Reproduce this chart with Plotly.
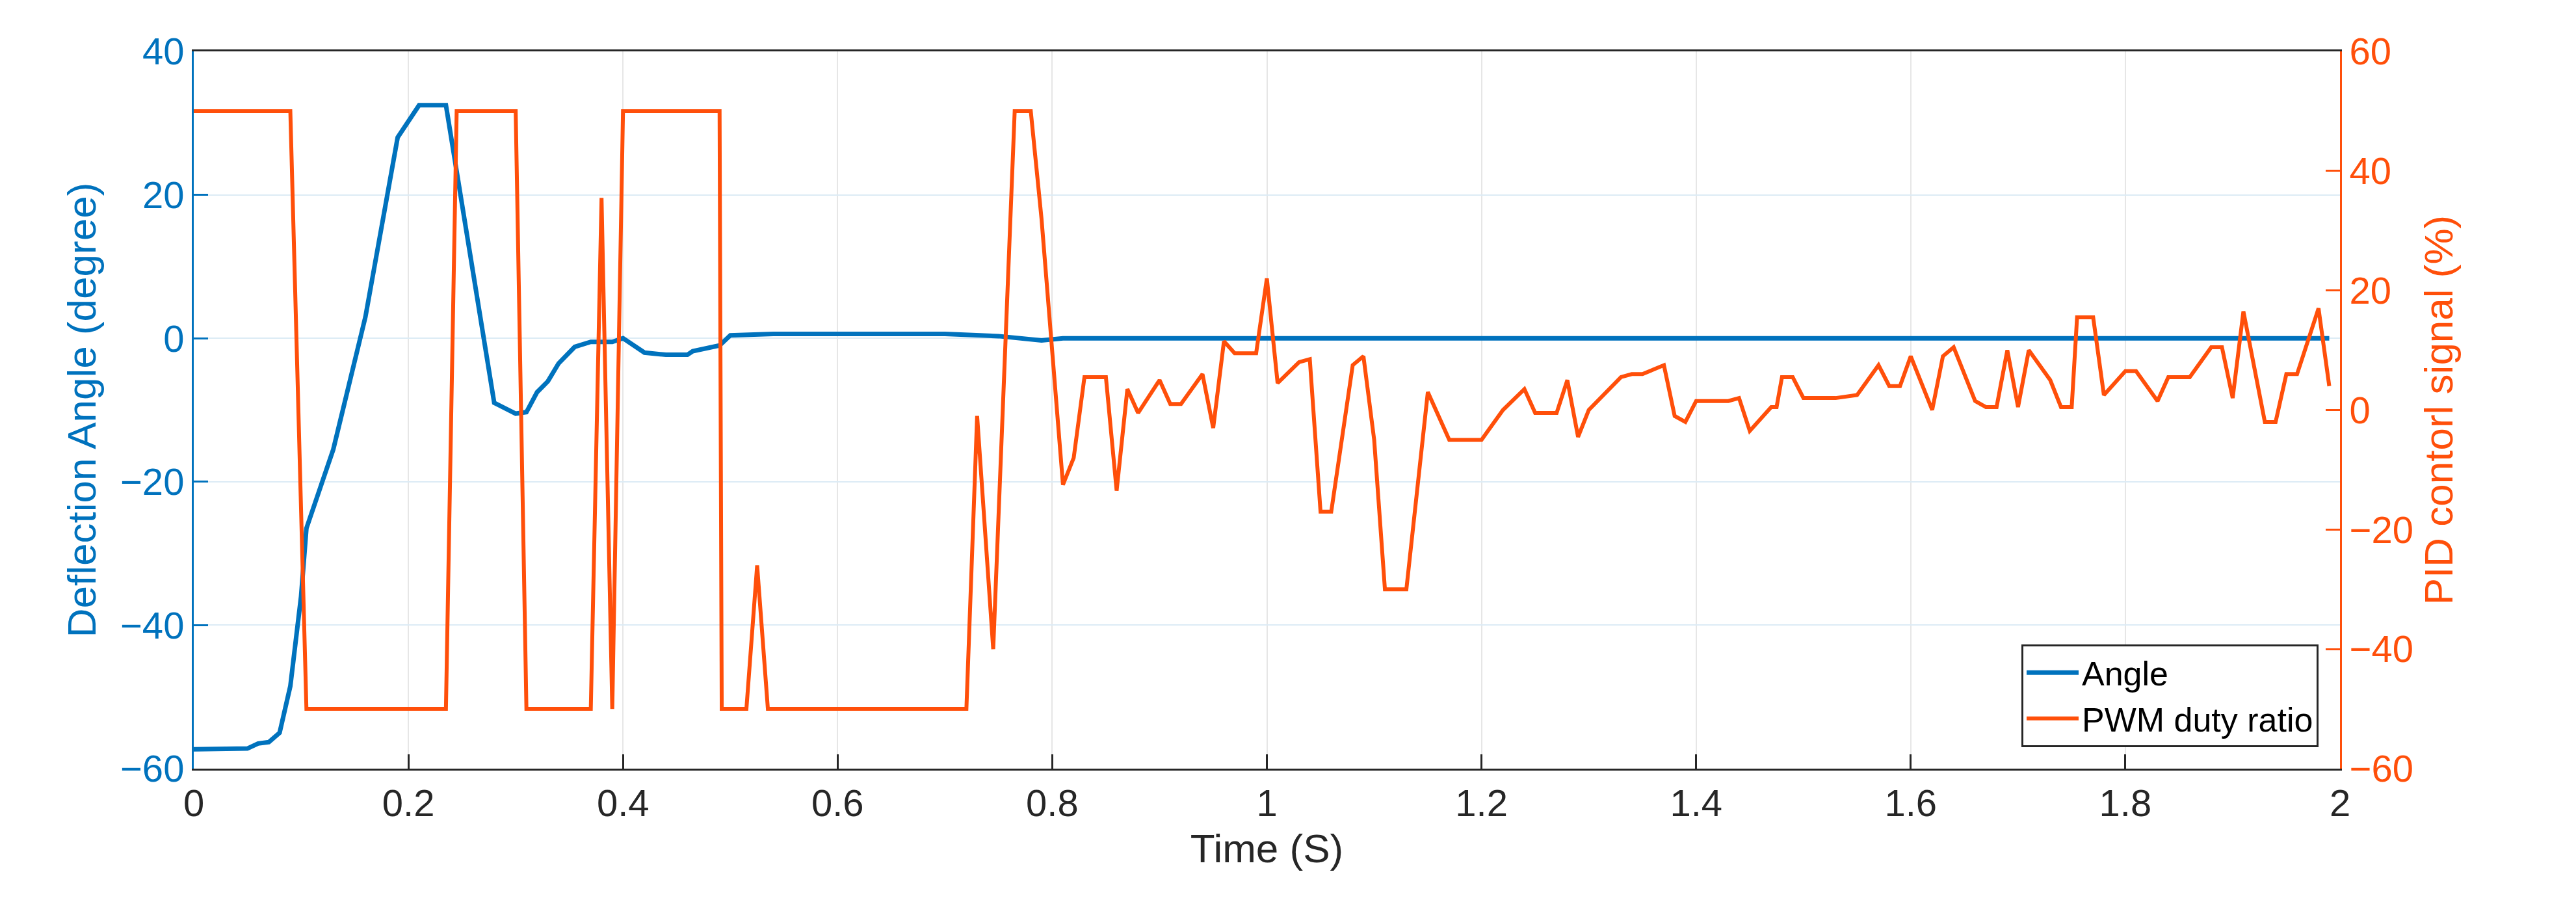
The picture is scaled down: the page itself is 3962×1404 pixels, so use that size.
import plotly.graph_objects as go

t_angle = [0, 0.05, 0.06, 0.07, 0.08, 0.09, 0.1, 0.105, 0.13, 0.16, 0.19, 0.21, 0.235, 0.28, 0.3, 0.31, 0.32, 0.33, 0.34, 0.355, 0.37, 0.39, 0.40, 0.42, 0.44, 0.46, 0.465, 0.49, 0.50, 0.54, 0.6, 0.7, 0.75, 0.79, 0.81, 1.0, 1.2, 1.5, 1.8, 1.99]
angle = [-57.3, -57.2, -56.5, -56.3, -55, -48.5, -36, -26.5, -15.5, 3, 28, 32.5, 32.5, -9, -10.5, -10.3, -7.5, -6, -3.5, -1.2, -0.5, -0.5, 0, -2, -2.3, -2.3, -1.8, -1, 0.4, 0.6, 0.6, 0.6, 0.3, -0.3, 0, 0, 0, 0, 0, 0]

t_pwm = [0, 0.09, 0.105, 0.235, 0.245, 0.30, 0.31, 0.37, 0.38, 0.39, 0.40, 0.49, 0.492, 0.515, 0.525, 0.535, 0.72, 0.73, 0.745, 0.765, 0.78, 0.79, 0.81, 0.82, 0.83, 0.85, 0.86, 0.87, 0.88, 0.9, 0.91, 0.92, 0.94, 0.95, 0.96, 0.97, 0.99, 1.0, 1.01, 1.03, 1.04, 1.05, 1.06, 1.08, 1.09, 1.1, 1.11, 1.13, 1.15, 1.17, 1.2, 1.22, 1.24, 1.25, 1.27, 1.28, 1.29, 1.3, 1.33, 1.34, 1.35, 1.37, 1.38, 1.39, 1.4, 1.43, 1.44, 1.45, 1.47, 1.475, 1.48, 1.49, 1.5, 1.53, 1.55, 1.57, 1.58, 1.59, 1.6, 1.62, 1.63, 1.64, 1.66, 1.67, 1.68, 1.69, 1.70, 1.71, 1.73, 1.74, 1.75, 1.755, 1.77, 1.78, 1.8, 1.81, 1.83, 1.84, 1.86, 1.88, 1.89, 1.9, 1.91, 1.93, 1.94, 1.95, 1.96, 1.98, 1.99]
pwm = [50, 50, -50, -50, 50, 50, -50, -50, 35.5, -50, 50, 50, -50, -50, -26, -50, -50, -1, -40, 50, 50, 32, -12.5, -8, 5.5, 5.5, -13.5, 3.5, -0.5, 5, 1, 1, 6, -3, 11.5, 9.5, 9.5, 22, 4.5, 8, 8.5, -17, -17, 7.5, 9, -5, -30, -30, 3, -5, -5, 0, 3.5, -0.5, -0.5, 5, -4.5, 0, 5.5, 6, 6, 7.5, -1, -2, 1.5, 1.5, 2, -3.5, 0.5, 0.5, 5.5, 5.5, 2, 2, 2.5, 7.5, 4, 4, 9, 0, 9, 10.5, 1.5, 0.5, 0.5, 10, 0.5, 10, 5, 0.5, 0.5, 15.5, 15.5, 2.5, 6.5, 6.5, 1.5, 5.5, 5.5, 10.5, 10.5, 2, 16.5, -2, -2, 6, 6, 17, 4]

x_ticks = [0, 0.2, 0.4, 0.6, 0.8, 1, 1.2, 1.4, 1.6, 1.8, 2]
x_tick_text = ["0", "0.2", "0.4", "0.6", "0.8", "1", "1.2", "1.4", "1.6", "1.8", "2"]
left_ticks = [-60, -40, -20, 0, 20, 40]
left_tick_text = ["\u221260", "\u221240", "\u221220", "0", "20", "40"]
right_ticks = [-60, -40, -20, 0, 20, 40, 60]
right_tick_text = ["\u221260", "\u221240", "\u221220", "0", "20", "40", "60"]

BLUE = "#0072BD"
ORANGE = "#FF4F0A"
FONT = "Liberation Sans, Arial, sans-serif"

fig = go.Figure()
fig.add_trace(go.Scatter(x=t_angle, y=angle, mode="lines", name="Angle",
                         line=dict(color=BLUE, width=7)))
fig.add_trace(go.Scatter(x=t_pwm, y=pwm, mode="lines", name="PWM duty ratio",
                         line=dict(color=ORANGE, width=6), yaxis="y2"))

fig.update_layout(
    width=3962, height=1404,
    paper_bgcolor="white", plot_bgcolor="white",
    margin=dict(l=290, r=371, t=71, b=230),
    font=dict(family=FONT, size=58, color="#262626"),
    xaxis=dict(range=[0, 2], tickvals=x_ticks, ticktext=x_tick_text,
               showgrid=True, gridcolor="#E6E6E6", gridwidth=2,
               showline=True, linecolor="#262626", linewidth=3, mirror=True,
               ticks="inside", ticklen=22, tickwidth=3, tickcolor="#262626",
               zeroline=False,
               title=dict(text="Time (S)", font=dict(size=62, color="#262626"), standoff=18),
               tickfont=dict(size=58, color="#262626")),
    yaxis=dict(range=[-60, 40], tickvals=left_ticks, ticktext=left_tick_text,
               showgrid=True, gridcolor="#DCEBF5", gridwidth=2,
               showline=True, linecolor=BLUE, linewidth=3,
               ticks="inside", ticklen=22, tickwidth=3, tickcolor=BLUE,
               zeroline=False,
               title=dict(text="Deflection Angle (degree)", font=dict(size=62, color=BLUE), standoff=18),
               tickfont=dict(size=58, color=BLUE)),
    yaxis2=dict(range=[-60, 60], tickvals=right_ticks, ticktext=right_tick_text,
                overlaying="y", side="right", showgrid=False,
                showline=True, linecolor=ORANGE, linewidth=3,
                ticks="inside", ticklen=22, tickwidth=3, tickcolor=ORANGE,
                zeroline=False,
                title=dict(text="PID contorl signal (%)", font=dict(size=62, color=ORANGE), standoff=18),
                tickfont=dict(size=58, color=ORANGE)),
    legend=dict(x=0.99, y=0.03, xanchor="right", yanchor="bottom",
                bgcolor="white", bordercolor="#262626", borderwidth=3,
                font=dict(size=52, color="#000000"), tracegroupgap=0,
                itemwidth=80),
    showlegend=True,
)

fig.write_html("out.html")
